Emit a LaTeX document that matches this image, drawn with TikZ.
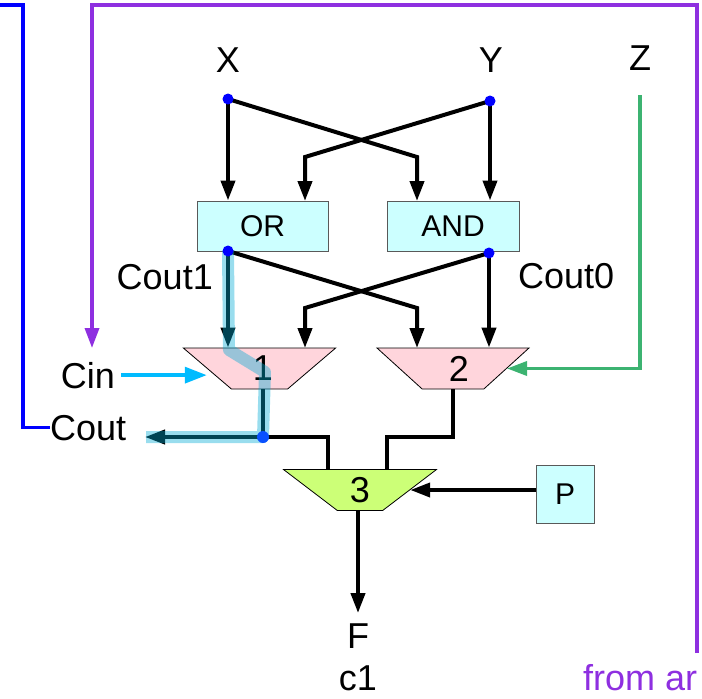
\documentclass[tikz,border=0pt]{standalone}
\usepackage{fontspec}
\setmainfont{Liberation Sans}
\usetikzlibrary{arrows.meta}
\usetikzlibrary{shapes.geometric}
\usetikzlibrary{calc}
\definecolor{boxfill}{HTML}{CCFFFF}
\definecolor{muxpink}{HTML}{FFD5DC}
\definecolor{muxgreen}{HTML}{CCFF77}
\definecolor{wirepurple}{HTML}{8E2FE0}
\definecolor{wiregreen}{HTML}{3CB371}
\definecolor{wirecyan}{HTML}{00BBFF}
\definecolor{hilite}{RGB}{0,170,212}
\definecolor{splitblue}{HTML}{0A50FF}
\tikzset{x=1pt, y=-1pt, % pixel grid, y runs downwards
every node/.style={font=\fontsize{36}{40}\selectfont, inner sep=0pt},
unit/.style={ % OR, AND and P boxes
draw=black!65, fill=boxfill, line width=1pt,
font=\fontsize{30}{34}\selectfont},
mux/.style={ % multiplexers, wide side up
trapezium, trapezium angle=47, shape border rotate=180,
trapezium stretches=true, draw=black, line width=0.8pt,
minimum width=153pt, minimum height=41pt},
wire/.style={line width=4pt},
tip/.style={-{Triangle[length=20pt,width=14pt]}},
feed/.style={line width=3.5pt}}

\begin{document}
\begin{tikzpicture}
\useasboundingbox (0,0) rectangle (702,699);
% inputs
\node[anchor=base] (x) at (228,72) {X};
\node[anchor=base] (y) at (491,72) {Y};
\node[anchor=base] (z) at (640,70) {Z};
\coordinate (xd) at (228,99);
\coordinate (yd) at (490,101);
% function units
\node[unit, minimum width=131pt, minimum height=50pt] (or) at (262.5,226) {OR};
\node[unit, minimum width=132pt, minimum height=50pt] (and) at (453,226) {AND};
\coordinate (ord) at (228,251);
\coordinate (andd) at (489,253);
\node[anchor=base east] (cout1) at (213,289) {Cout1};
\node[anchor=base west] (cout0) at (518,288) {Cout0};
% multiplexers
\node[mux, fill=muxpink] (m1) at (259.5,368.5) {\hspace*{7pt}1};
\node[mux, fill=muxpink] (m2) at (453,368.5) {\hspace*{12pt}2};
\node[mux, fill=muxgreen] (m3) at (360,490) {3};
\node[unit, minimum size=58pt] (p) at (565,494) {P};
\node[anchor=base] (cin) at (88,388) {Cin};
\node[anchor=base west] (cout) at (50,440) {Cout};
\node[anchor=base] (f) at (358,648) {F};
\node[anchor=base] (c1) at (358,690) {c1};
\node[anchor=base west, text=wirepurple] (from) at (583,690) {from ar};
\coordinate (split) at (263,437);

% X and Y into the units
\draw[wire, tip] (xd) -- (xd |- or.north);
\draw[wire, tip] (xd) -- (417,157) -- (417,201);
\draw[wire, tip] (yd) -- (yd |- and.north);
\draw[wire, tip] (yd) -- (305,157) -- (305,201);
% units into the multiplexers
\draw[wire, tip] (ord) -- (ord |- m1.north);
\draw[wire, tip] (ord) -- (417,308) -- (417,348);
\draw[wire, tip] (andd) -- (andd |- m2.north);
\draw[wire, tip] (andd) -- (305,308) -- (305,348);
% outputs
\draw[wire] (split |- m1.south) -- (split) -| ($(m3.north)+(-32,0)$);
\draw[wire, tip] (split) -- (145,437);
\draw[wire] (453,389) -- (453,437) -| ($(m3.north)+(27,0)$);
\draw[wire, tip] (f |- m3.south) -- ([yshift=10pt]f.north);
\draw[wire, tip] (p.west |- m3.east) -- (m3.east);
% select lines and feedback
\draw[feed, wirecyan, -{Triangle[length=22pt,width=16pt]}] ([xshift=6pt]cin.east) -- (cin.east -| m1.west);
\draw[feed, wiregreen, tip] ([yshift=-25pt]z.south) |- (m2.east);
\draw[feed, wirepurple, tip] (697,653) |- (92,5) -- (92,348);
\draw[feed, blue] (0,5) -| ($(cout.west)+(-27,0)$) -- (cout.west);
% carry path
\draw[hilite, opacity=0.4, line width=12pt, line join=round]
  (ord) -- (229,350) -- (265,372) -- (split) -- (146,437);
\foreach \j in {xd,yd,ord,andd}
  \fill[blue] (\j) circle (5.5pt);
\fill[splitblue] (split) circle (6pt);
\end{tikzpicture}
\end{document}
